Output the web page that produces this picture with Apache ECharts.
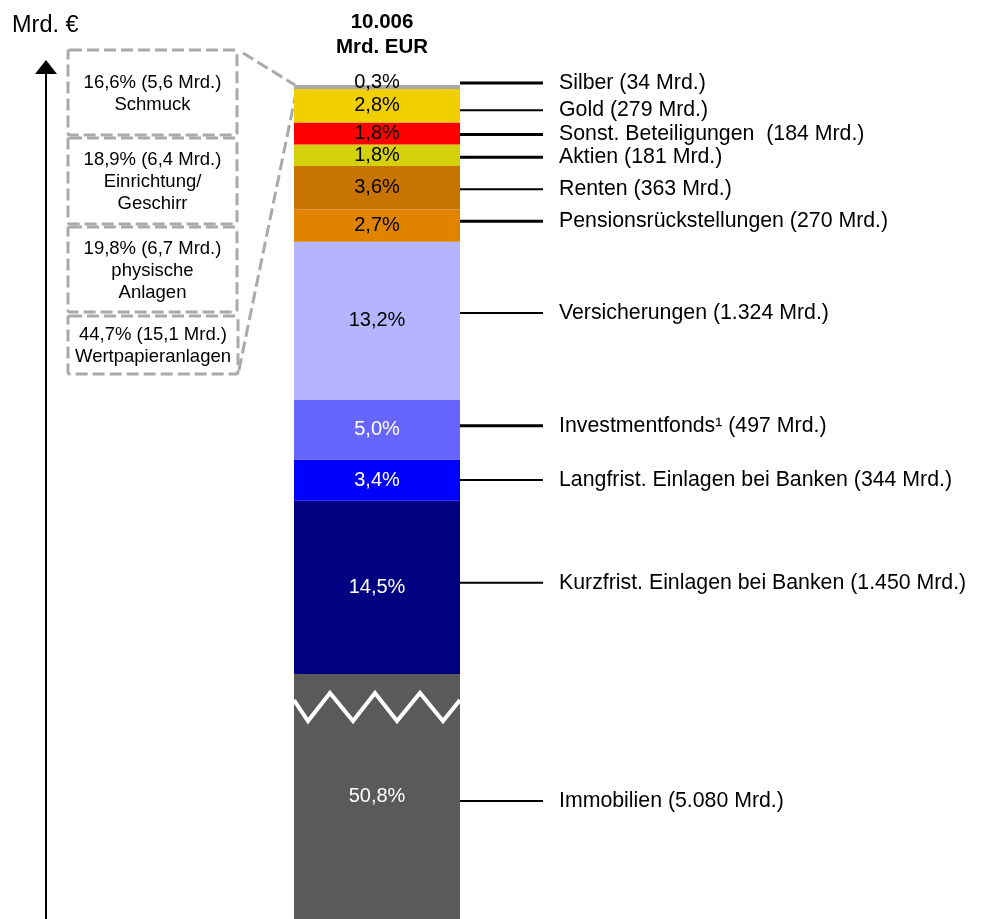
<!DOCTYPE html>
<html>
<head>
<meta charset="utf-8">
<script src="https://cdn.jsdelivr.net/npm/echarts@6/dist/echarts.min.js"></script>
<style>html,body{margin:0;padding:0;background:#fff}#c{width:983px;height:919px}</style>
</head>
<body>
<div id="c"></div>
<script>
// ---- data (bottom to top of the stacked bar) ----
const categories = ['Immobilien', 'Kurzfrist. Einlagen bei Banken', 'Langfrist. Einlagen bei Banken', 'Investmentfonds¹', 'Versicherungen', 'Pensionsrückstellungen', 'Renten', 'Aktien', 'Sonst. Beteiligungen ', 'Gold', 'Silber'];
const values = [5080, 1450, 344, 497, 1324, 270, 363, 181, 184, 279, 34];
// breakdown of Silber
const silverParts = ['Schmuck', 'Einrichtung/\nGeschirr', 'physische\nAnlagen', 'Wertpapieranlagen'];
const silverShares = [16.6, 18.9, 19.8, 44.7];
const silverAmounts = [5.6, 6.4, 6.7, 15.1];
// axis window (axis is broken below Immobilien's top)
const axisMin = 3031;
const axisMax = 10157;

// ---- styles ----
const colors = ['#5a5a5a', '#000080', '#0000ff', '#6666ff', '#b4b4ff', '#e08400', '#c87400', '#d4d00a', '#ff0000', '#f0d000', '#a8a8a8'];
const labelColors = ['#fff', '#fff', '#fff', '#fff', '#000', '#000', '#000', '#000', '#000', '#000', '#000'];
const leaderWidths = [2, 2, 2, 3, 2, 3, 2, 3, 3, 2, 3];
const leaderNudge = [4.5, -4.5, 0, -4, -8, -4.5, 1.5, 2, 1, 4.5, -4];
const FONT = 'Liberation Sans, Arial, sans-serif';
const BAR_W = 166;

const total = values.reduce((a, b) => a + b, 0);
function deNum(v, d) {
  const s = v.toFixed(d || 0);
  const parts = s.split('.');
  parts[0] = parts[0].replace(/\B(?=(\d{3})+(?!\d))/g, '.');
  return parts.join(',');
}
const pct = values.map(v => deNum(v / total * 100, 1) + '%');

// centres of visible segments
let acc = 0;
const centers = values.map(v => {
  const s = acc, e = acc + v; acc = e;
  return (Math.max(s, axisMin) + e) / 2;
});

const chart = echarts.init(document.getElementById('c'));

const barSeries = categories.map((name, i) => ({
  name: name,
  type: 'bar',
  stack: 'total',
  barWidth: BAR_W,
  clip: true,
  data: [values[i]],
  itemStyle: { color: colors[i] },
  label: {
    show: true,
    position: 'inside',
    formatter: () => pct[i],
    color: labelColors[i],
    fontSize: 20,
    fontFamily: FONT,
    offset: i === values.length - 1 ? [0, -5] : [0, 0]
  },
  emphasis: { disabled: true },
  silent: true
}));

const leaderSeries = {
  type: 'custom',
  silent: true,
  z: 10,
  data: centers.map((c, i) => [0, c, i]),
  renderItem: (params, api) => {
    const i = api.value(2);
    const p = api.coord([api.value(0), api.value(1)]);
    const x0 = p[0] + BAR_W / 2;
    const y = p[1] + leaderNudge[i];
    return {
      type: 'group',
      children: [
        { type: 'line', shape: { x1: x0, y1: y, x2: x0 + 83, y2: y }, style: { stroke: '#000', lineWidth: leaderWidths[i] } },
        { type: 'text', style: { text: categories[i] + ' (' + deNum(values[i]) + ' Mrd.)', x: x0 + 99, y: y, align: 'left', verticalAlign: 'middle', fill: '#000', font: '21.3px ' + FONT } }
      ]
    };
  }
};

const breakSeries = {
  type: 'custom',
  silent: true,
  z: 11,
  data: [[0, values[0]]],
  renderItem: (params, api) => {
    const p = api.coord([api.value(0), api.value(1)]);
    const x0 = p[0] - BAR_W / 2;
    const t = p[1];
    const pts = [[0, 26], [14, 47], [36, 19], [59, 47], [81, 19], [103, 47], [126, 19], [149, 47], [166, 26]]
      .map(q => [x0 + q[0], t + q[1]]);
    return { type: 'polyline', shape: { points: pts }, style: { stroke: '#fff', lineWidth: 4, fill: null, lineJoin: 'miter' } };
  }
};

const option = {
  animation: false,
  backgroundColor: '#fff',
  title: {
    text: deNum(total) + '\nMrd. EUR',
    left: 377, top: 5, textAlign: 'center',
    textStyle: { fontSize: 20.5, fontWeight: 'bold', lineHeight: 25, color: '#000', fontFamily: FONT }
  },
  grid: { left: 46, right: 275, top: 67, bottom: 0 },
  xAxis: { type: 'category', data: ['Vermögen'], show: false },
  yAxis: {
    type: 'value', min: axisMin, max: axisMax,
    splitLine: { show: false }, axisLabel: { show: false }, axisTick: { show: false },
    axisLine: { show: true, onZero: false, symbol: ['none', 'triangle'], symbolSize: [22, 14], lineStyle: { color: '#000', width: 2 } }
  },
  series: barSeries.concat([leaderSeries, breakSeries])
};
chart.setOption(option);

// ---- annotation: Silber breakdown boxes ----
const boxes = [[68, 50, 169, 85], [68, 138, 169, 86], [68, 227, 169, 85], [68, 316, 170, 58]];
const dash = { stroke: '#aaaaaa', lineWidth: 3, lineDash: [12, 5], fill: null };
const g = [];
boxes.forEach((b, i) => {
  g.push({ type: 'rect', shape: { x: b[0], y: b[1], width: b[2], height: b[3], r: 2 }, style: dash, silent: true });
  g.push({
    type: 'text', silent: true,
    style: {
      text: deNum(silverShares[i], 1) + '% (' + deNum(silverAmounts[i], 1) + ' Mrd.)\n' + silverParts[i],
      x: b[0] + b[2] / 2, y: b[1] + b[3] / 2 + 1,
      align: 'center', verticalAlign: 'middle', textAlign: 'center', textVerticalAlign: 'middle',
      font: '18.5px ' + FONT, lineHeight: 22, fill: '#000'
    }
  });
});
const barTop = chart.convertToPixel({ seriesIndex: 0 }, [0, total]);
const barLeft = barTop[0] - BAR_W / 2;
g.push({ type: 'line', silent: true, shape: { x1: 243, y1: 53, x2: barLeft + 1, y2: barTop[1] }, style: dash });
g.push({ type: 'line', silent: true, shape: { x1: 239, y1: 370, x2: barLeft + 3, y2: barTop[1] + 3 }, style: dash });
g.push({ type: 'text', silent: true, style: { text: 'Mrd. €', x: 12, y: 26, align: 'left', verticalAlign: 'middle', textVerticalAlign: 'middle', font: '23.5px ' + FONT, fill: '#000' } });
chart.setOption({ graphic: { elements: g } });
</script>
</body>
</html>
